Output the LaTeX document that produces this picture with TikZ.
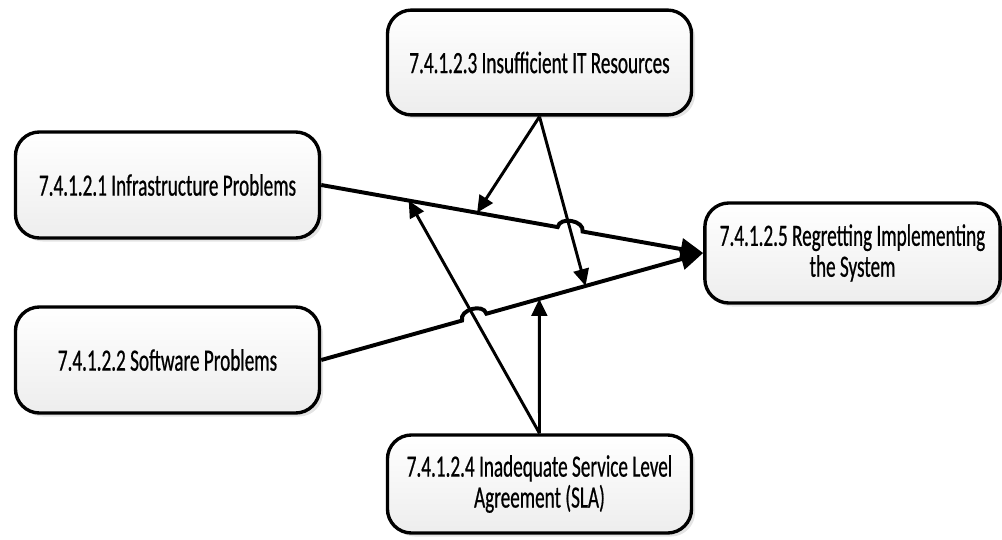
\documentclass[tikz,border=0pt]{standalone}
\usepackage{fontspec}
\newfontfamily\boxfont[FakeStretch=0.62,FakeBold=0.6]{Carlito}
\usetikzlibrary{arrows.meta,calc,intersections,shadows}
\begin{document}
\begin{tikzpicture}[x=0.025cm,y=-0.025cm,
  box/.style={draw=black, line width=2.4pt, rounded corners=0.6cm,
    top color=white, bottom color=gray!14, minimum width=7.6cm,
    align=center, font=\boxfont\fontsize{22}{22}\selectfont, inner sep=2pt,
    drop shadow={shadow xshift=2.5pt, shadow yshift=-2.5pt, fill=gray!30, opacity=0.7}},
  mainline/.style={line width=2.8pt, -{Triangle[length=16pt,width=15pt]}},
  infl/.style={line width=2.1pt, -{Triangle[length=12pt,width=11pt]}},
]
\useasboundingbox (0,0) rectangle (1002,540);

\node[box, minimum height=2.65cm] (b1) at (167.5,185) {7.4.1.2.1 Infrastructure Problems};
\node[box, minimum height=2.65cm] (b2) at (167.5,360) {7.4.1.2.2 Software Problems};
\node[box, minimum height=2.62cm] (b3) at (539.5,62.5) {7.4.1.2.3 Insufficient IT Resources};
\node[box, minimum height=2.45cm] (b4) at (539.5,484) {7.4.1.2.4 Inadequate Service Level\\Agreement (SLA)};
\node[box, minimum width=7.38cm, minimum height=2.5cm] (b5) at (852.5,253) {7.4.1.2.5 Regretting Implementing\\the System};

\path[name path=l1] (b1.east) -- (b5.west);
\path[name path=l2] (b2.east) -- (b5.west);
\coordinate (t31) at ($(b1.east)!0.408!(b5.west)$);
\coordinate (t41) at ($(b1.east)!0.229!(b5.west)$);
\coordinate (t32) at ($(b2.east)!0.692!(b5.west)$);
\coordinate (t42) at ($(b2.east)!0.571!(b5.west)$);

\draw[infl] (b3.south) -- (t31);
\draw[infl, name path=a32] (b3.south) -- (t32);
\draw[infl] (b4.north) -- (t42);
\draw[infl, name path=a41] (b4.north) -- (t41);

\path[name intersections={of=l1 and a32, by=x1}];
\path[name intersections={of=l2 and a41, by=x2}];

\coordinate (j1a) at ($(x1)!9pt!(b1.east)$);
\coordinate (j1b) at ($(x1)!9pt!(b5.west)$);
\coordinate (j2a) at ($(x2)!9pt!(b2.east)$);
\coordinate (j2b) at ($(x2)!9pt!(b5.west)$);

\draw[mainline] (b1.east) -- (j1a) .. controls ($(j1a)!8pt!90:(j1b)$) and ($(j1b)!8pt!-90:(j1a)$) .. (j1b) -- (b5.west);
\draw[mainline] (b2.east) -- (j2a) .. controls ($(j2a)!8pt!90:(j2b)$) and ($(j2b)!8pt!-90:(j2a)$) .. (j2b) -- (b5.west);
\end{tikzpicture}
\end{document}
